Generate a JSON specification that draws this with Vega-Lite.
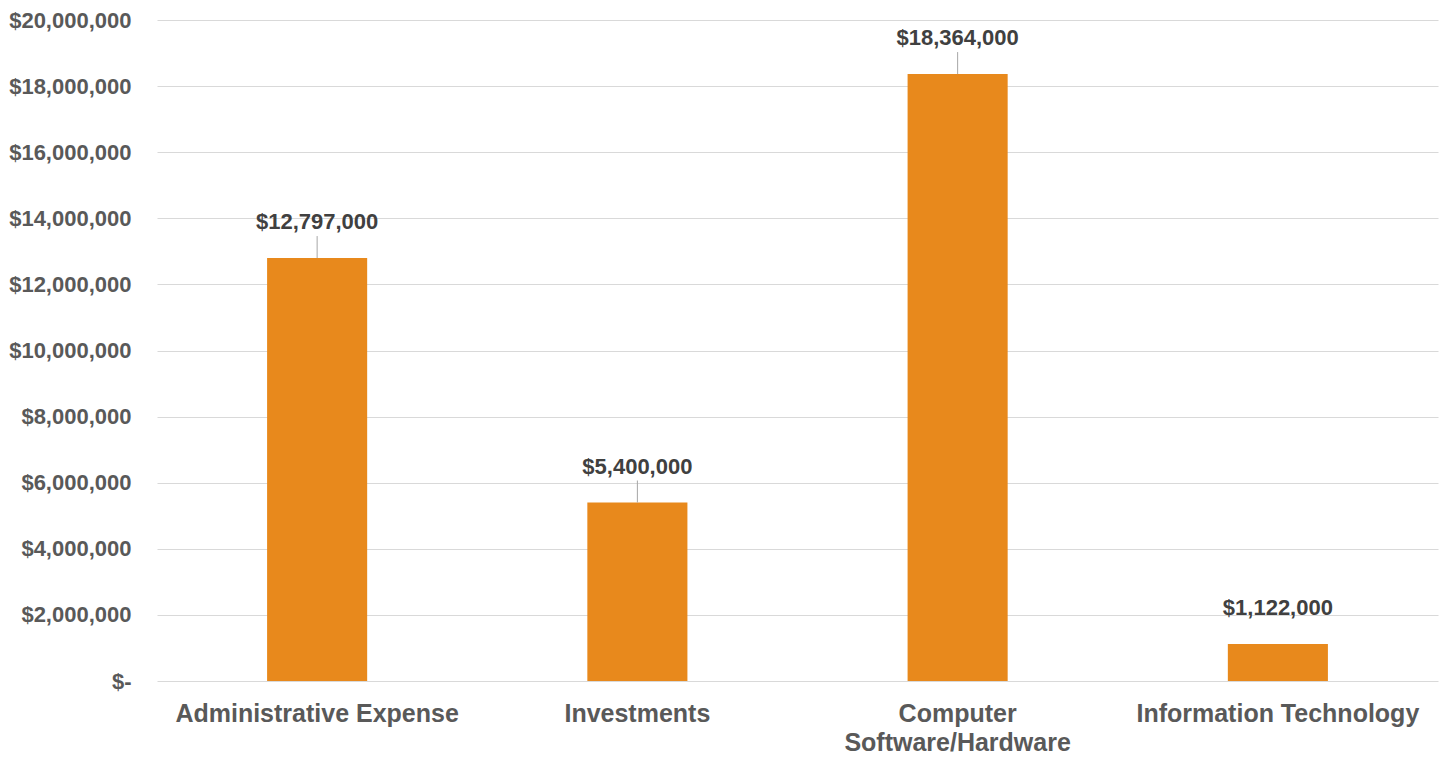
{
  "$schema": "https://vega.github.io/schema/vega-lite/v6.json",
  "autosize": {"type": "none"},
  "width": 1281,
  "height": 661,
  "padding": {"left": 157, "top": 20, "right": 10, "bottom": 77},
  "background": "#ffffff",
  "config": {
    "view": {"stroke": null},
    "font": "Liberation Sans"
  },
  "data": {
    "values": [
      {"category": "Administrative Expense", "amount": 12797000},
      {"category": "Investments", "amount": 5400000},
      {"category": "Computer Software/Hardware", "amount": 18364000},
      {"category": "Information Technology", "amount": 1122000}
    ]
  },
  "encoding": {
    "x": {
      "field": "category",
      "type": "nominal",
      "sort": null,
      "scale": {"paddingInner": 0.6875, "paddingOuter": 0.34375},
      "axis": {
        "title": null,
        "domain": false,
        "ticks": false,
        "labelAngle": 0,
        "labelFont": "Liberation Sans",
        "labelFontWeight": "bold",
        "labelFontSize": 25,
        "labelColor": "#595959",
        "labelPadding": 20,
        "labelBaseline": "top",
        "labelLineHeight": 29,
        "labelLimit": 400,
        "labelOverlap": false,
        "labelExpr": "datum.value == 'Computer Software/Hardware' ? ['Computer', 'Software/Hardware'] : datum.value"
      }
    },
    "y": {
      "field": "amount",
      "type": "quantitative",
      "scale": {"domain": [0, 20000000], "nice": false},
      "axis": {
        "title": null,
        "domain": false,
        "ticks": false,
        "values": [0, 2000000, 4000000, 6000000, 8000000, 10000000, 12000000, 14000000, 16000000, 18000000, 20000000],
        "grid": true,
        "gridColor": "#d9d9d9",
        "gridWidth": 1,
        "labelFont": "Liberation Sans",
        "labelFontWeight": "bold",
        "labelFontSize": 22,
        "labelColor": "#595959",
        "labelPadding": 26,
        "labelOverlap": false,
        "labelExpr": "datum.value == 0 ? '$-' : '$' + format(datum.value, ',.0f')"
      }
    }
  },
  "layer": [
    {
      "mark": {"type": "bar", "color": "#e8891c"}
    },
    {
      "transform": [{"filter": "datum.amount > 2000000"}],
      "mark": {"type": "rule", "color": "#a6a6a6", "strokeWidth": 1, "y2Offset": -22},
      "encoding": {
        "y2": {"field": "amount"}
      }
    },
    {
      "mark": {
        "type": "text",
        "dy": -36,
        "baseline": "middle",
        "align": "center",
        "font": "Liberation Sans",
        "fontWeight": "bold",
        "fontSize": 22,
        "color": "#404040"
      },
      "encoding": {
        "text": {"field": "amount", "type": "quantitative", "format": "$,.0f"}
      }
    }
  ]
}
